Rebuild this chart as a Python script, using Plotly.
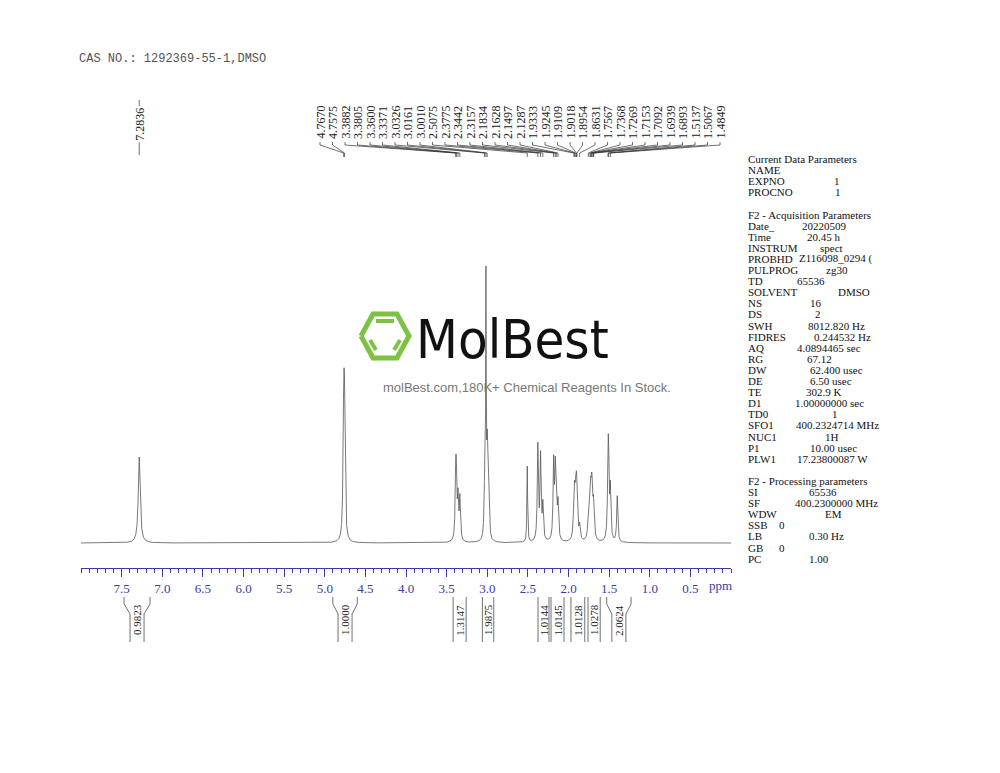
import numpy as np
import plotly.graph_objects as go

# ---------------- data ----------------
title_text = "CAS NO.: 1292369-55-1,DMSO"
peak_ppm = [7.2836, 4.7670, 4.7575, 3.3882, 3.3805, 3.3600, 3.3371, 3.0326, 3.0161, 3.0010,
            2.9900, 2.5075, 2.3775, 2.3442, 2.3157, 2.1834, 2.1628, 2.1497, 2.1287,
            1.9333, 1.9245, 1.9109, 1.9018, 1.8954, 1.8631, 1.7567, 1.7368, 1.7269, 1.7153,
            1.7092, 1.6939, 1.6893, 1.5137, 1.5067, 1.4849, 1.4000]
peak_height = [86, 112, 112, 55, 48, 40, 42, 50, 245, 70,
               55, 76, 95, 84, 35, 76, 62, 45, 35,
               26, 32, 34, 30, 26, 14, 20, 30, 32, 30,
               26, 20, 16, 62, 62, 50, 46]
peak_hwhm = [0.014, 0.009, 0.009, 0.008, 0.008, 0.008, 0.008, 0.008, 0.004, 0.008,
             0.010, 0.005, 0.008, 0.008, 0.008, 0.008, 0.008, 0.008, 0.008,
             0.009, 0.009, 0.009, 0.009, 0.009, 0.009, 0.009, 0.009, 0.009, 0.009,
             0.009, 0.009, 0.009, 0.008, 0.008, 0.008, 0.008]
top_labels = ["4.7670", "4.7575", "3.3882", "3.3805", "3.3600", "3.3371", "3.0326", "3.0161",
              "3.0010", "2.5075", "2.3775", "2.3442", "2.3157", "2.1834", "2.1628", "2.1497",
              "2.1287", "1.9333", "1.9245", "1.9109", "1.9018", "1.8954", "1.8631", "1.7567",
              "1.7368", "1.7269", "1.7153", "1.7092", "1.6939", "1.6893", "1.5137", "1.5067",
              "1.4849"]
single_label = "7.2836"
int_start = [7.47, 4.90, 3.42, 3.06, 2.375, 2.215, 1.97, 1.76, 1.53]
int_end = [7.15, 4.60, 3.26, 2.92, 2.24, 2.055, 1.80, 1.61, 1.23]
int_value = ["0.9823", "1.0000", "1.3147", "1.9875", "1.0144", "1.0145", "1.0128", "1.0278", "2.0624"]
param_keys = ["Current Data Parameters", "NAME", "EXPNO", "PROCNO", "",
              "F2 - Acquisition Parameters", "Date_", "Time", "INSTRUM", "PROBHD", "PULPROG",
              "TD", "SOLVENT", "NS", "DS", "SWH", "FIDRES", "AQ", "RG", "DW", "DE", "TE", "D1",
              "TD0", "SFO1", "NUC1", "P1", "PLW1", "",
              "F2 - Processing parameters", "SI", "SF", "WDW", "SSB", "LB", "GB", "PC"]
param_vals = ["", "", "1", "1", "", "", "20220509", "20.45 h", "spect", "Z116098_0294 (",
              "zg30", "65536", "DMSO", "16", "2", "8012.820 Hz", "0.244532 Hz", "4.0894465 sec",
              "67.12", "62.400 usec", "6.50 usec", "302.9 K", "1.00000000 sec", "1",
              "400.2324714 MHz", "1H", "10.00 usec", "17.23800087 W", "", "", "65536",
              "400.2300000 MHz", "EM", "0", "0.30 Hz", "0", "1.00"]
param_valx = [0, 0, 832, 833, 0, 0, 800, 805, 818, 797, 824, 795, 836, 808, 813, 806, 812, 795,
              805, 808, 808, 804, 793, 830, 794, 823, 808, 795, 0, 0, 807, 793, 823, 777, 807,
              777, 807]

# ---------------- layout helpers ----------------
W, H = 1000, 773
OFF = 8                   # page body margin
X0, X1 = 81, 731          # screen-pixel extent of ppm axis
PPM0, PPM1 = 8.0, 0.0
BASE = 543
AXIS_Y = 568
def px2ppm(px):
    if px is None:
        return None
    return PPM0 - (px - X0) / (X1 - X0) * (PPM0 - PPM1)
def pap(px):
    return (px - OFF) / W

x = np.linspace(8.0, 0.0, 16001)
y = np.zeros_like(x)
for p, h, w in zip(peak_ppm, peak_height, peak_hwhm):
    y += h / (1 + ((x - p) / w) ** 2)
ypix = BASE - y

fig = go.Figure()
fig.add_trace(go.Scatter(x=x, y=ypix, mode="lines", line=dict(color="#555555", width=0.8),
                         hoverinfo="skip"))

SER = "Liberation Serif"
lx, ly = [], []
ann = []
for i, lab in enumerate(top_labels):
    lpx = 320 + i * 12.5
    lp = px2ppm(lpx)
    pk = float(lab)
    lx += [lp, lp, pk, pk, None]
    ly += [142, 145, 153, 157, None]
    ann.append(dict(x=lp, y=141, text=lab, textangle=-90, showarrow=False, xanchor="center",
                    yanchor="bottom", font=dict(family=SER, size=12, color="#222")))
sp = float(single_label)
lx += [sp, sp, None]
ly += [100, 155, None]
ann.append(dict(x=sp, y=143, text=single_label, textangle=-90, showarrow=False, xanchor="center",
                yanchor="bottom", font=dict(family=SER, size=12, color="#222"), bgcolor="white"))

ix, iy = [], []
inner = 7 / (X1 - X0) * (PPM0 - PPM1)
for s, e, v in zip(int_start, int_end, int_value):
    c = (s + e) / 2
    if (s - e) > 0.2:
        a, b = c + inner, c - inner
        ix += [s, s, a, a, None, e, e, b, b, None]
        iy += [597, 604, 614, 642, None, 597, 604, 614, 642, None]
    else:
        ix += [s, s, None, e, e, None]
        iy += [597, 642, None, 597, 642, None]
    ann.append(dict(x=c, y=620, text=v, textangle=-90, showarrow=False, xanchor="center",
                    yanchor="middle", font=dict(family=SER, size=11, color="#222")))

fig.add_trace(go.Scatter(x=lx, y=ly, mode="lines", line=dict(color="#333", width=0.7), hoverinfo="skip"))
fig.add_trace(go.Scatter(x=ix, y=iy, mode="lines", line=dict(color="#333", width=0.7), hoverinfo="skip"))

for i, (k, v, vx) in enumerate(zip(param_keys, param_vals, param_valx)):
    yy = 159 + i * 11.1
    if k:
        ann.append(dict(xref="paper", yref="y", x=pap(746), y=yy, text=k, showarrow=False,
                        xanchor="left", yanchor="middle", font=dict(family=SER, size=11, color="#111")))
    if v:
        ann.append(dict(xref="paper", yref="y", x=pap(vx), y=yy, text=v, showarrow=False,
                        xanchor="left", yanchor="middle", font=dict(family=SER, size=11, color="#111")))

ann.append(dict(xref="paper", yref="y", x=pap(77), y=59, text=title_text, showarrow=False,
                xanchor="left", yanchor="middle",
                font=dict(family="Liberation Mono", size=12, color="#555")))
ann.append(dict(xref="x", yref="y", x=px2ppm(720), y=585, text="ppm", showarrow=False,
                xanchor="center", yanchor="middle", font=dict(family=SER, size=13, color="#3a3aa8")))
ann.append(dict(xref="paper", yref="y", x=pap(414), y=339, text="MolBest", showarrow=False,
                xanchor="left", yanchor="middle",
                font=dict(family="Liberation Sans Narrow, DejaVu Sans Condensed", size=54, color="#111")))
ann.append(dict(xref="paper", yref="y", x=pap(381), y=387, text="molBest.com,180K+ Chemical Reagents In Stock.",
                showarrow=False, xanchor="left", yanchor="middle",
                font=dict(family="Liberation Sans", size=13, color="#777")))

hexx = [px2ppm(v) for v in [361, 373, 397, 409, 397, 373, 361]]
hexy = [336, 314, 314, 336, 358, 358, 336]
fig.add_trace(go.Scatter(x=hexx, y=hexy, mode="lines", line=dict(color="#7dc242", width=5), hoverinfo="skip"))
inx = [px2ppm(v) for v in [376, 394, None, 370, 376, None, 400, 394]]
iny = [321, 321, None, 340, 350, None, 340, 350]
fig.add_trace(go.Scatter(x=inx, y=iny, mode="lines", line=dict(color="#7dc242", width=4), hoverinfo="skip"))

fig.update_layout(
    width=W, height=H, margin=dict(l=0, r=0, t=0, b=0), paper_bgcolor="white",
    plot_bgcolor="white", showlegend=False, annotations=ann,
    xaxis=dict(domain=[pap(X0), pap(X1)], range=[PPM0, PPM1], anchor="free",
               position=(H + OFF - AXIS_Y) / H, showline=True, linecolor="#3a3aa8", linewidth=1,
               ticks="outside", ticklen=8, tickcolor="#3a3aa8",
               tickvals=[7.5, 7.0, 6.5, 6.0, 5.5, 5.0, 4.5, 4.0, 3.5, 3.0, 2.5, 2.0, 1.5, 1.0, 0.5],
               ticktext=["7.5", "7.0", "6.5", "6.0", "5.5", "5.0", "4.5", "4.0", "3.5", "3.0", "2.5", "2.0", "1.5", "1.0", "0.5"],
               minor=dict(dtick=0.1, ticks="outside", ticklen=4, tickcolor="#3a3aa8", showgrid=False),
               tickfont=dict(family=SER, size=13, color="#3a3aa8"),
               showgrid=False, zeroline=False),
    yaxis=dict(domain=[0, 1], range=[H + OFF, OFF], visible=False),
)
fig.write_html("out.html")
